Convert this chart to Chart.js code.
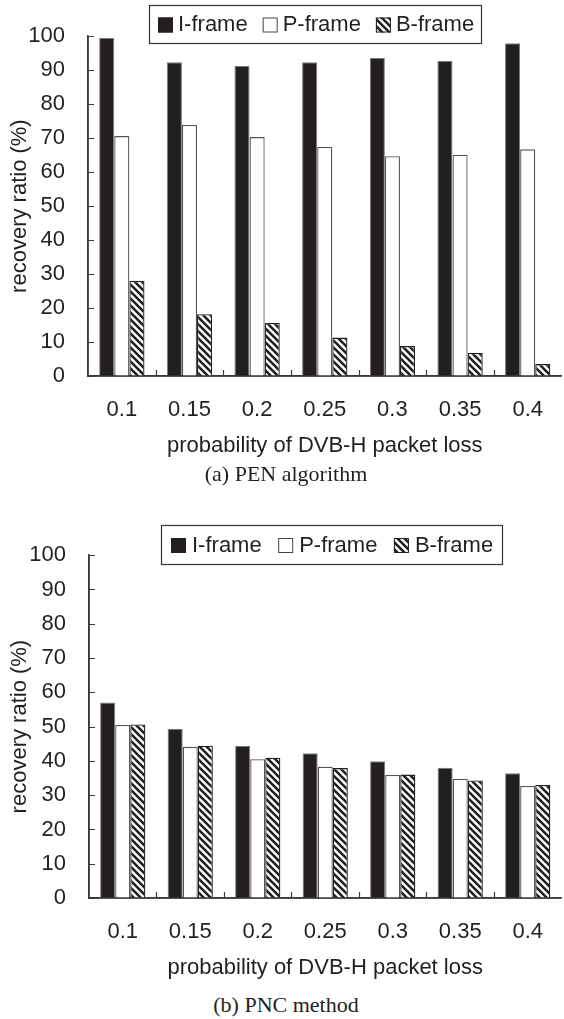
<!DOCTYPE html>
<html><head><meta charset="utf-8">
<script src="https://cdn.jsdelivr.net/npm/chart.js@4.4.1/dist/chart.umd.min.js"></script>
<style>
html,body{margin:0;padding:0;background:#fff;width:564px;height:1019px;overflow:hidden;position:relative}
.c{position:absolute;left:0;width:564px}
.cap{position:absolute;left:0;width:572px;text-align:center;font-family:'Liberation Serif','Times New Roman',serif;font-size:22px;color:#231f20;line-height:24px}
</style></head><body>
<div class="c" style="top:0;height:470px"><canvas id="chartA" width="564" height="470"></canvas></div>
<div class="cap" style="top:462px">(a) PEN algorithm</div>
<div class="c" style="top:519px;height:473px"><canvas id="chartB" width="564" height="473"></canvas></div>
<div class="cap" style="top:993px">(b) PNC method</div>
<script>
// ---- data ----
const categories = ['0.1', '0.15', '0.2', '0.25', '0.3', '0.35', '0.4'];
const seriesNames = ['I-frame', 'P-frame', 'B-frame'];
const yTicks = [0, 10, 20, 30, 40, 50, 60, 70, 80, 90, 100];
const xTitle = 'probability of DVB-H packet loss';
const yTitle = 'recovery ratio (%)';

const penI = [99.5, 92.3, 91.2, 92.3, 93.6, 92.7, 97.9];
const penP = [70.6, 73.9, 70.3, 67.4, 64.7, 65.1, 66.7];
const penB = [28.0, 18.2, 15.6, 11.3, 8.8, 6.8, 3.5];

const pncI = [57.0, 49.4, 44.4, 42.2, 39.9, 38.0, 36.4];
const pncP = [50.5, 44.1, 40.5, 38.3, 35.9, 34.8, 32.7];
const pncB = [50.6, 44.4, 40.9, 37.9, 36.0, 34.3, 33.0];

// ---- styles ----
const INK = '#231f20';
const AXIS = '#3a3a3a';
const FONT = "'Liberation Sans', Arial, sans-serif";

function makeHatch() {
  const s = 7;
  const c = document.createElement('canvas');
  c.width = s; c.height = s;
  const g = c.getContext('2d');
  g.fillStyle = '#fff'; g.fillRect(0, 0, s, s);
  g.strokeStyle = INK; g.lineWidth = 2.6; g.lineCap = 'square';
  g.beginPath();
  for (let k = -1; k <= 1; k++) {
    g.moveTo(k * s - 1, -1);
    g.lineTo(k * s + s + 1, s + 1);
  }
  g.stroke();
  return g.createPattern(c, 'repeat');
}
const hatch = makeHatch();

const decor = {
  id: 'decor',
  afterDatasetsDraw(chart, args, o) {
    const ctx = chart.ctx;
    const xs = chart.scales.x, ys = chart.scales.y;
    ctx.save();
    // inner tick marks
    ctx.strokeStyle = AXIS; ctx.lineWidth = 1.2;
    ctx.beginPath();
    ys.ticks.forEach(t => {
      const py = Math.round(ys.getPixelForValue(t.value)) + 0.5;
      ctx.moveTo(xs.left, py); ctx.lineTo(xs.left + 6, py);
    });
    for (let i = 0; i < categories.length - 1; i++) {
      const px = Math.round((xs.getPixelForValue(i) + xs.getPixelForValue(i + 1)) / 2) + 0.5;
      ctx.moveTo(px, ys.bottom); ctx.lineTo(px, ys.bottom - 6);
    }
    ctx.stroke();
    // axes redrawn on top
    ctx.lineWidth = 1.5;
    ctx.beginPath();
    ctx.moveTo(xs.left, ys.top); ctx.lineTo(xs.left, ys.bottom);
    ctx.lineTo(xs.right, ys.bottom);
    ctx.stroke();

    // legend
    ctx.fillStyle = '#fff';
    ctx.fillRect(o.left, o.top, o.width, o.height);
    ctx.strokeStyle = '#333'; ctx.lineWidth = 1.2;
    ctx.strokeRect(o.left + 0.5, o.top + 0.5, o.width, o.height);
    ctx.font = '22px ' + FONT;
    ctx.textBaseline = 'middle';
    ctx.textAlign = 'left';
    const cy = o.top + o.height / 2 + 1;
    let cx = o.left + o.pad;
    chart.data.datasets.forEach(ds => {
      ctx.fillStyle = ds.backgroundColor;
      ctx.fillRect(cx, cy - 7.5, 15, 15);
      ctx.strokeStyle = ds.legendEdge; ctx.lineWidth = 1;
      ctx.strokeRect(cx + 0.5, cy - 7.5 + 0.5, 14, 14);
      ctx.fillStyle = INK;
      ctx.fillText(ds.label, cx + o.textOff, cy);
      cx += o.textOff + ctx.measureText(ds.label).width + o.gap;
    });
    ctx.restore();
  }
};

function build(id, dataI, dataP, dataB, axisW, legend) {
  return new Chart(document.getElementById(id), {
    type: 'bar',
    data: {
      labels: categories,
      datasets: [
        { label: seriesNames[0], data: dataI, backgroundColor: INK, borderColor: '#7a7a7a', borderWidth: 1, legendEdge: INK },
        { label: seriesNames[1], data: dataP, backgroundColor: '#ffffff', borderColor: '#555', borderWidth: 1.3, legendEdge: '#444' },
        { label: seriesNames[2], data: dataB, backgroundColor: hatch, borderColor: INK, borderWidth: 1.3, legendEdge: INK }
      ]
    },
    options: {
      responsive: false,
      animation: false,
      events: [],
      layout: { padding: { left: 0, right: 0, top: 30, bottom: 0 } },
      datasets: { bar: { categoryPercentage: 0.67, barPercentage: 1.0 } },
      plugins: { legend: { display: false }, tooltip: { enabled: false }, decor: legend },
      scales: {
        x: {
          grid: { display: false, drawTicks: false },
          border: { display: true, color: AXIS, width: 1.5 },
          ticks: { color: INK, font: { family: FONT, size: 22 }, padding: 21, maxRotation: 0, autoSkip: false },
          title: { display: true, text: xTitle, color: INK, font: { family: FONT, size: 22, lineHeight: 1 }, padding: { top: 0, bottom: 13 } },
          afterFit(s) { s.height = 94; }
        },
        y: {
          min: 0, max: 100,
          afterBuildTicks(s) { s.ticks = yTicks.map(v => ({ value: v })); },
          grid: { display: false, drawTicks: false },
          border: { display: true, color: AXIS, width: 1.5 },
          ticks: { color: INK, font: { family: FONT, size: 22 }, padding: 23 },
          title: { display: true, text: yTitle, color: INK, font: { family: FONT, size: 22, lineHeight: 1 }, padding: { top: 9, bottom: 0 } },
          afterFit(s) { s.width = axisW; }
        }
      }
    },
    plugins: [decor]
  });
}

build('chartA', penI, penP, penB, 88, { left: 149, top: 5, width: 332, height: 38, pad: 9, textOff: 20, gap: 15 });
build('chartB', pncI, pncP, pncB, 89, { left: 161, top: 6, width: 341, height: 39, pad: 10, textOff: 21, gap: 16.5 });
</script>
</body></html>
